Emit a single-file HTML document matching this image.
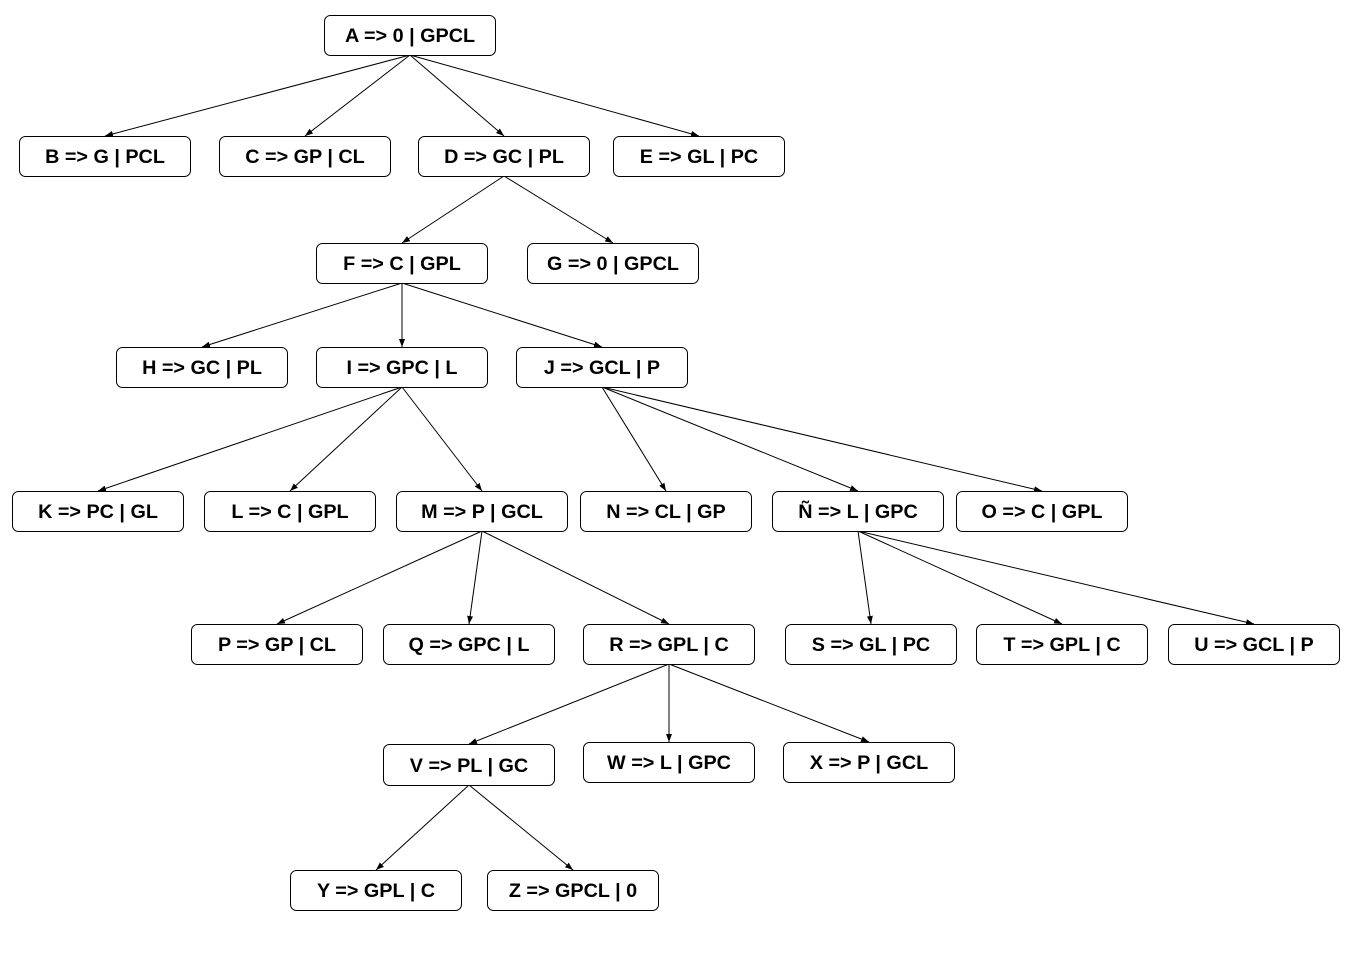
<!DOCTYPE html>
<html><head><meta charset="utf-8"><style>
html,body{margin:0;padding:0;background:#fff;}
svg{display:block;}
text{font-family:"Liberation Sans",Arial,sans-serif;font-weight:bold;font-size:19.8px;fill:#000;}
</style></head><body>
<svg width="1356" height="960" viewBox="0 0 1356 960" xmlns="http://www.w3.org/2000/svg">
<defs><marker id="a" markerWidth="8" markerHeight="6" refX="8" refY="3" orient="auto" markerUnits="userSpaceOnUse"><path d="M0,0 L8,3 L0,6 Z" fill="#000"/></marker></defs>
<g stroke="#000" stroke-width="1" marker-end="url(#a)">
<line x1="410" y1="55" x2="105" y2="136"/>
<line x1="410" y1="55" x2="305" y2="136"/>
<line x1="410" y1="55" x2="504" y2="136"/>
<line x1="410" y1="55" x2="699" y2="136"/>
<line x1="504" y1="176" x2="402" y2="243"/>
<line x1="504" y1="176" x2="613" y2="243"/>
<line x1="402" y1="283" x2="202" y2="347"/>
<line x1="402" y1="283" x2="402" y2="347"/>
<line x1="402" y1="283" x2="602" y2="347"/>
<line x1="402" y1="387" x2="98" y2="491"/>
<line x1="402" y1="387" x2="290" y2="491"/>
<line x1="402" y1="387" x2="482" y2="491"/>
<line x1="602" y1="387" x2="666" y2="491"/>
<line x1="602" y1="387" x2="858" y2="491"/>
<line x1="602" y1="387" x2="1042" y2="491"/>
<line x1="482" y1="531" x2="277" y2="624"/>
<line x1="482" y1="531" x2="469" y2="624"/>
<line x1="482" y1="531" x2="669" y2="624"/>
<line x1="858" y1="531" x2="871" y2="624"/>
<line x1="858" y1="531" x2="1062" y2="624"/>
<line x1="858" y1="531" x2="1254" y2="624"/>
<line x1="669" y1="664" x2="469" y2="744"/>
<line x1="669" y1="664" x2="669" y2="742"/>
<line x1="669" y1="664" x2="869" y2="742"/>
<line x1="469" y1="785" x2="376" y2="870"/>
<line x1="469" y1="785" x2="573" y2="870"/>
</g>
<g fill="#fff" stroke="#000" stroke-width="1">
<rect x="324.5" y="15.5" width="171" height="40" rx="6"/>
<rect x="19.5" y="136.5" width="171" height="40" rx="6"/>
<rect x="219.5" y="136.5" width="171" height="40" rx="6"/>
<rect x="418.5" y="136.5" width="171" height="40" rx="6"/>
<rect x="613.5" y="136.5" width="171" height="40" rx="6"/>
<rect x="316.5" y="243.5" width="171" height="40" rx="6"/>
<rect x="527.5" y="243.5" width="171" height="40" rx="6"/>
<rect x="116.5" y="347.5" width="171" height="40" rx="6"/>
<rect x="316.5" y="347.5" width="171" height="40" rx="6"/>
<rect x="516.5" y="347.5" width="171" height="40" rx="6"/>
<rect x="12.5" y="491.5" width="171" height="40" rx="6"/>
<rect x="204.5" y="491.5" width="171" height="40" rx="6"/>
<rect x="396.5" y="491.5" width="171" height="40" rx="6"/>
<rect x="580.5" y="491.5" width="171" height="40" rx="6"/>
<rect x="772.5" y="491.5" width="171" height="40" rx="6"/>
<rect x="956.5" y="491.5" width="171" height="40" rx="6"/>
<rect x="191.5" y="624.5" width="171" height="40" rx="6"/>
<rect x="383.5" y="624.5" width="171" height="40" rx="6"/>
<rect x="583.5" y="624.5" width="171" height="40" rx="6"/>
<rect x="785.5" y="624.5" width="171" height="40" rx="6"/>
<rect x="976.5" y="624.5" width="171" height="40" rx="6"/>
<rect x="1168.5" y="624.5" width="171" height="40" rx="6"/>
<rect x="383.5" y="744.5" width="171" height="41" rx="6"/>
<rect x="583.5" y="742.5" width="171" height="40" rx="6"/>
<rect x="783.5" y="742.5" width="171" height="40" rx="6"/>
<rect x="290.5" y="870.5" width="171" height="40" rx="6"/>
<rect x="487.5" y="870.5" width="171" height="40" rx="6"/>
</g>
<g text-anchor="middle">
<text x="410" y="42">A =&gt; 0 | GPCL</text>
<text x="105" y="163">B =&gt; G | PCL</text>
<text x="305" y="163">C =&gt; GP | CL</text>
<text x="504" y="163">D =&gt; GC | PL</text>
<text x="699" y="163">E =&gt; GL | PC</text>
<text x="402" y="270">F =&gt; C | GPL</text>
<text x="613" y="270">G =&gt; 0 | GPCL</text>
<text x="202" y="374">H =&gt; GC | PL</text>
<text x="402" y="374">I =&gt; GPC | L</text>
<text x="602" y="374">J =&gt; GCL | P</text>
<text x="98" y="518">K =&gt; PC | GL</text>
<text x="290" y="518">L =&gt; C | GPL</text>
<text x="482" y="518">M =&gt; P | GCL</text>
<text x="666" y="518">N =&gt; CL | GP</text>
<text x="858" y="518">Ñ =&gt; L | GPC</text>
<text x="1042" y="518">O =&gt; C | GPL</text>
<text x="277" y="651">P =&gt; GP | CL</text>
<text x="469" y="651">Q =&gt; GPC | L</text>
<text x="669" y="651">R =&gt; GPL | C</text>
<text x="871" y="651">S =&gt; GL | PC</text>
<text x="1062" y="651">T =&gt; GPL | C</text>
<text x="1254" y="651">U =&gt; GCL | P</text>
<text x="469" y="772">V =&gt; PL | GC</text>
<text x="669" y="769">W =&gt; L | GPC</text>
<text x="869" y="769">X =&gt; P | GCL</text>
<text x="376" y="897">Y =&gt; GPL | C</text>
<text x="573" y="897">Z =&gt; GPCL | 0</text>
</g>
</svg>
</body></html>
